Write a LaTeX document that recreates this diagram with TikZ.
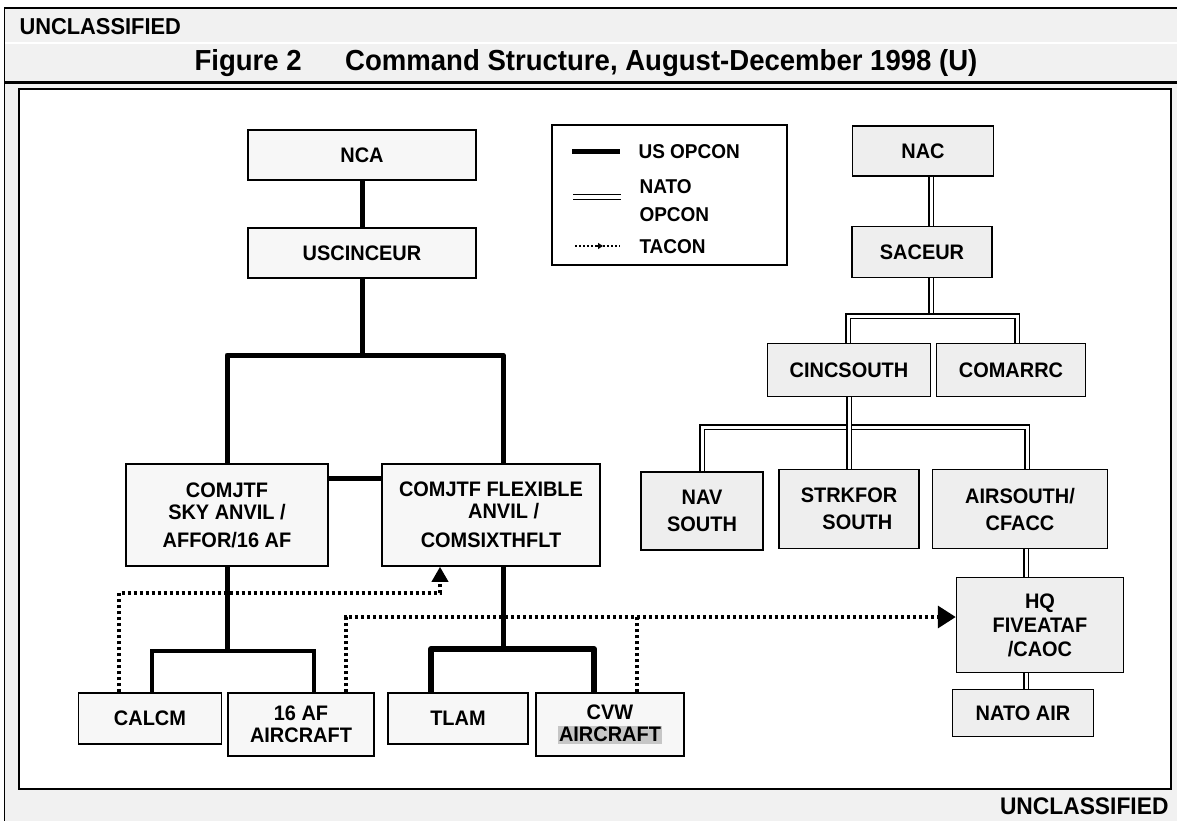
\documentclass[tikz,border=0pt]{standalone}
\usepackage{fontspec}
\setmainfont{Liberation Sans}[FakeStretch=0.95]
\usetikzlibrary{arrows.meta,positioning}

\begin{document}
\begin{tikzpicture}[x=1pt,y=-1pt]
\tikzstyle{every node}=[font=\fontsize{21}{22}\selectfont\bfseries] %%
\tikzstyle{usbox}=[draw,line width=1.5pt,fill=gray!6,align=center,inner sep=2pt]
\tikzstyle{natobox}=[draw,line width=1.5pt,fill=gray!13,align=center,inner sep=2pt,font=\fontsize{21}{27}\selectfont\bfseries]
\tikzstyle{usline}=[line width=5pt,line join=round]
\tikzstyle{natoline}=[double=white,double distance=3pt,line width=1.5pt]
\tikzstyle{tacon}=[line width=3.5pt,dash pattern=on 3.5pt off 2.5pt]
\tikzstyle{keytext}=[anchor=west,align=left,font=\fontsize{20}{22}\selectfont\bfseries]
\useasboundingbox (0,0) rectangle (1177,821);

% frame and banners
\fill[gray!11] (4,8) rectangle (1177,821);
\draw[white,line width=2pt] (4,43) -- (1177,43);
\draw[line width=3pt] (4,82.5) -- (1177,82.5);
\draw[line width=1.5pt] (4.5,821) -- (4.5,8) -- (1177,8);
\filldraw[fill=white,line width=1.5pt] (19,89) rectangle (1171,789);
\node[anchor=west,font=\fontsize{23}{25}\selectfont\bfseries] (topclass) at (16,27) {UNCLASSIFIED};
\node[font=\fontsize{29}{31}\selectfont\bfseries] (title) at (586,63) {Figure 2\hspace{1.5em}Command Structure, August-December 1998 (U)};
\node[anchor=east,font=\fontsize{24}{26}\selectfont\bfseries] (botclass) at (1172,806) {UNCLASSIFIED};

% US chain
\node[usbox,minimum width=228pt,minimum height=50pt] (nca) at (362,155) {NCA};
\node[usbox,minimum width=228pt,minimum height=50pt] (uscinc) at (362,253) {USCINCEUR};
\node[usbox,minimum width=202pt,minimum height=102pt] (sky) at (227,515) {COMJTF\\SKY ANVIL /\\[6pt]AFFOR/16 AF};
\node[usbox,minimum width=218pt,minimum height=102pt] (flex) at (491,515) {COMJTF FLEXIBLE\\\hspace*{1.2em}ANVIL /\\[7pt]COMSIXTHFLT};
\node[usbox,minimum width=143pt,minimum height=51pt] (calcm) at (150,718.5) {CALCM};
\node[usbox,minimum width=146pt,minimum height=63pt] (af) at (301,724.5) {16 AF\\AIRCRAFT};
\node[usbox,minimum width=140pt,minimum height=51pt] (tlam) at (458,718.5) {TLAM};
\node[usbox,minimum width=148pt,minimum height=63pt] (cvw) at (610,724.5) {CVW\\{\fboxsep=1.5pt\colorbox{gray!45}{AIRCRAFT}}};

\coordinate (usbar) at (362,355);
\coordinate (skybar) at (227,651);
\coordinate (flexbar) at (503,649);
\coordinate (tacjoin) at (637,617);

\draw[usline] (nca) -- (uscinc);
\draw[usline] (uscinc) -- (usbar);
\draw[usline] (sky.north) |- (usbar) -| ([xshift=12pt]flex.north);
\draw[usline] ([yshift=37pt]sky.east) -- ([yshift=37pt]flex.west);
\draw[usline] (sky) -- (skybar);
\draw[line width=4pt] ([xshift=2pt]calcm.north) |- (skybar) -| ([xshift=13pt]af.north);
\draw[usline] ([xshift=12pt]flex.south) -- (flexbar);
\draw[line width=6pt,line join=round] ([xshift=-27pt]tlam.north) |- (flexbar) -| ([xshift=-16pt]cvw.north);

% NATO chain
\node[natobox,minimum width=141pt,minimum height=50pt] (nac) at (923,151) {NAC};
\node[natobox,minimum width=140pt,minimum height=51pt] (saceur) at (922,252) {SACEUR};
\node[natobox,minimum width=163pt,minimum height=53pt] (cinc) at (849,370) {CINCSOUTH};
\node[natobox,minimum width=149pt,minimum height=53pt] (comarrc) at (1011,370) {COMARRC};
\node[natobox,minimum width=122pt,minimum height=78pt] (navs) at (702,511) {NAV\\SOUTH};
\node[natobox,minimum width=140pt,minimum height=79pt] (strk) at (849,509) {STRKFOR\\\hspace*{0.8em}SOUTH};
\node[natobox,minimum width=175pt,minimum height=79pt] (airs) at (1020,509) {AIRSOUTH/\\CFACC};
\node[natobox,minimum width=167pt,minimum height=95pt,font=\fontsize{21}{24}\selectfont\bfseries] (hq) at (1040,625) {HQ\\FIVEATAF\\/CAOC};
\node[natobox,minimum width=141pt,minimum height=47pt] (natoair) at (1023,713) {NATO AIR};

\coordinate (sacbar) at (931,316);
\coordinate (cincbar) at (849,427);

\draw[natoline] ([xshift=8pt]nac.south) -- ([xshift=9pt]saceur.north);
\draw[natoline] ([xshift=9pt]saceur.south) -- (sacbar);
\draw[natoline] ([xshift=-1pt]cinc.north) |- (sacbar) -| ([xshift=6pt]comarrc.north);
\draw[natoline] (navs.north) |- (cincbar) -| ([xshift=7pt]airs.north);
\draw[natoline] (cinc) -- (strk);
\draw[natoline] ([xshift=6pt]airs.south) -- ([xshift=-14pt]hq.north);
\draw[natoline] ([xshift=-14pt]hq.south) -- ([xshift=3pt]natoair.north);

% TACON
\draw[tacon,-{Triangle[length=15pt,width=16pt]}] ([xshift=-31pt]calcm.north) |- ([xshift=-51pt,yshift=-26pt]flex.south) -- ([xshift=-51pt]flex.south);
\draw[tacon,-{Triangle[length=18pt,width=22pt]}] ([xshift=45pt]af.north) |- ([yshift=8pt]hq.west);
\draw[tacon] ([xshift=27pt]cvw.north) -- (tacjoin);

% legend
\draw[line width=1.5pt] (552,125) rectangle (787,265);
\draw[usline] (572,152) -- (620,152);
\node[keytext] (uskey) at (635,152) {US OPCON};
\draw[natoline] (573,197) -- (621,197);
\node[keytext] (natokey) at (636,201) {NATO\\[6pt]OPCON};
\draw[line width=2pt,dash pattern=on 2pt off 2pt] (575,246) -- (620,246);
\draw[line width=2pt,-{Triangle[length=5pt,width=6pt]}] (596,246) -- (603,246);
\node[keytext] (tackey) at (636,247) {TACON};
\end{tikzpicture}
\end{document}
